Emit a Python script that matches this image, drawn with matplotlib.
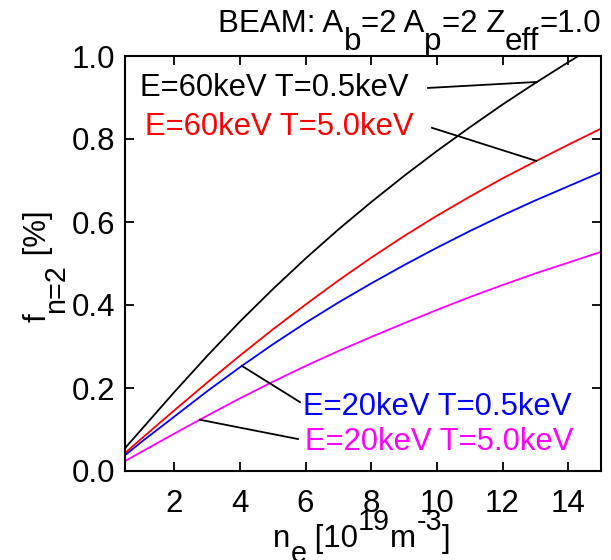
import numpy as np
import matplotlib
matplotlib.use("Agg")
import matplotlib.pyplot as plt

plt.rcParams['font.family'] = ['Liberation Sans', 'DejaVu Sans']

# electron density [1e19 m^-3]
ne = [0.5, 1, 2, 3, 4, 5, 6, 7, 8, 9, 10, 11, 12, 13, 14, 15]

# n=2 fraction [%]
f_60_05 = [0.055, 0.100, 0.190, 0.277, 0.360, 0.438, 0.512, 0.582, 0.648, 0.711,
           0.771, 0.828, 0.883, 0.935, 0.985, 1.033]
f_60_50 = [0.043, 0.078, 0.146, 0.213, 0.278, 0.341, 0.401, 0.459, 0.514, 0.566,
           0.615, 0.661, 0.705, 0.746, 0.786, 0.825]
f_20_05 = [0.038, 0.070, 0.131, 0.192, 0.250, 0.305, 0.357, 0.406, 0.452, 0.496,
           0.538, 0.578, 0.616, 0.652, 0.686, 0.720]
f_20_50 = [0.024, 0.046, 0.090, 0.133, 0.175, 0.215, 0.253, 0.289, 0.323, 0.356,
           0.388, 0.419, 0.448, 0.476, 0.502, 0.528]

labels = ['E=60keV T=0.5keV', 'E=60keV T=5.0keV',
          'E=20keV T=0.5keV', 'E=20keV T=5.0keV']
colors = ['black', 'red', 'blue', 'magenta']

W, H = 611, 560
fs = 22.5
fig = plt.figure(figsize=(W / 100, H / 100), dpi=100)
ax = fig.add_axes([125 / W, 1 - 471 / H, 476 / W, 415 / H])
renderer = fig.canvas.get_renderer()

series = [f_60_05, f_60_50, f_20_05, f_20_50]
for y, c in zip(series, colors):
    ax.plot(ne, y, color=c, lw=1.3)

ax.set_xlim(0.5, 15)
ax.set_ylim(0.0, 1.0)
ax.set_xticks([2, 4, 6, 8, 10, 12, 14])
ax.set_yticks([0.0, 0.2, 0.4, 0.6, 0.8, 1.0])
ax.set_yticklabels(['0.0', '0.2', '0.4', '0.6', '0.8', '1.0'])
ax.tick_params(direction='in', length=6.5, width=1.3, top=True, right=True,
               labelsize=fs)
ax.tick_params(axis='x', pad=13)
ax.tick_params(axis='y', pad=7)
for s in ax.spines.values():
    s.set_linewidth(1.5)

# labels with leader lines to the curves
text_pos = [(0.96, 0.923), (1.11, 0.829), (5.92, 0.154), (5.98, 0.070)]
lead_from = [(9.73, 0.923), (9.85, 0.827), (5.83, 0.166), (5.77, 0.077)]
lead_x = [13.05, 13.03, 4.06, 2.78]
for lab, c, tp, lf, lx, y in zip(labels, colors, text_pos, lead_from, lead_x, series):
    ax.text(tp[0], tp[1], lab, color=c, fontsize=22.3, ha='left', va='center')
    ly = np.interp(lx, ne, y)
    ax.plot([lf[0], lx], [lf[1], ly], color='black', lw=1.3)


def text_width(s, size):
    t = fig.text(0, 0, s, fontsize=size)
    w = t.get_window_extent(renderer).width
    t.remove()
    return w


def rich(x, y, parts, ha='left', vertical=False, sub=18, sup=17, scale=0.92):
    # x, y: baseline start in pixels from top-left; parts: (string, kind)
    sizes = [fs if k == 'n' else fs * scale for _, k in parts]
    widths = [text_width(s, sz) for (s, _), sz in zip(parts, sizes)]
    total = sum(widths)
    pos = 0.0
    if ha == 'right':
        pos = -total
    elif ha == 'center':
        pos = -total / 2
    for (s, k), sz, w in zip(parts, sizes, widths):
        off = {'n': 0, 'sub': sub, 'sup': -sup}[k]
        if vertical:
            px, py = x + off, y - pos
        else:
            px, py = x + pos, y + off
        fig.text(px / W, 1 - py / H, s, fontsize=sz, ha='left', va='baseline',
                 rotation=90 if vertical else 0, rotation_mode='anchor')
        pos += w


rich(601, 32, [('BEAM: A', 'n'), ('b', 'sub'), ('=2 A', 'n'), ('p', 'sub'),
               ('=2 Z', 'n'), ('eff', 'sub'), ('=1.0', 'n')], ha='right',
     scale=1.0)
rich(273, 547, [('n', 'n'), ('e', 'sub'), (' [10', 'n'), ('19', 'sup'),
                ('m', 'n'), ('-3', 'sup'), (']', 'n')], sub=15)
rich(46, 322, [('f', 'n'), ('n=2', 'sub'), (' [%]', 'n')], vertical=True)

fig.savefig('out.png', dpi=100)
